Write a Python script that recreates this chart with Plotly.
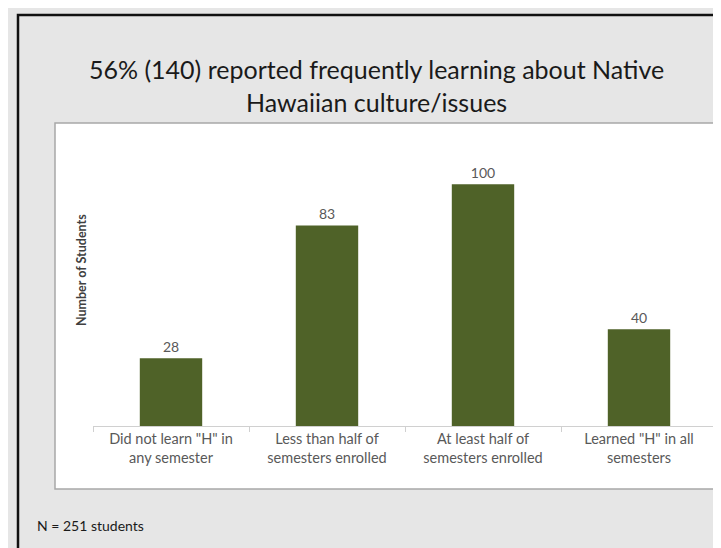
import plotly.graph_objects as go

categories = ['Did not learn "H" in<br>any semester',
              'Less than half of<br>semesters enrolled',
              'At least half of<br>semesters enrolled',
              'Learned "H" in all<br>semesters']
students = [28, 83, 100, 40]

W, H = 721, 548
L, R, T, B = 85, 12, 128, 130
pw = W - L - R
ph = H - T - B

def px(x):
    return (x - L) / pw

def py(y):
    return (H - B - y) / ph

FONT = "Lato, Liberation Sans, sans-serif"

fig = go.Figure()
fig.add_trace(go.Bar(
    x=categories, y=students,
    marker=dict(color="#4f6228", line=dict(width=0)),
    text=[str(v) for v in students], textposition="outside",
    textfont=dict(family=FONT, size=14, color="#595959"),
    cliponaxis=False,
))

fig.update_layout(
    width=W, height=H,
    margin=dict(l=L, r=R, t=T, b=B),
    paper_bgcolor="#e6e6e6",
    plot_bgcolor="white",
    showlegend=False,
    bargap=0.6,
    font=dict(family=FONT),
    xaxis=dict(showline=True, linecolor="#d0d0d0", linewidth=1,
               ticks="outside", tickson="boundaries", ticklen=5, tickcolor="#d0d0d0",
               tickfont=dict(size=14.5, color="#595959"), showgrid=False),
    yaxis=dict(range=[0, 120], showticklabels=False, showgrid=False,
               zeroline=False, showline=False),
    shapes=[
        dict(type="rect", xref="paper", yref="paper", layer="below",
             x0=px(47), x1=px(730), y0=py(481), y1=py(115),
             fillcolor="white", line=dict(color="#a8a8a8", width=1.5)),
        dict(type="rect", xref="paper", yref="paper",
             x0=px(10), x1=px(W + 10), y0=py(H + 10), y1=py(7),
             line=dict(color="#111111", width=2.5)),
    ],
    annotations=[
        dict(text="56% (140) reported frequently learning about Native<br>Hawaiian culture/issues",
             xref="paper", yref="paper", x=px(368), y=py(77),
             xanchor="center", yanchor="middle", showarrow=False,
             font=dict(size=25, color="#1a1a1a", family=FONT)),
        dict(text="<b>Number of Students</b>", textangle=-90,
             xref="paper", yref="paper", x=px(73), y=py(262),
             xanchor="center", yanchor="middle", showarrow=False,
             font=dict(size=12.5, color="#404040")),
        dict(text="N = 251 students",
             xref="paper", yref="paper", x=px(27), y=py(517),
             xanchor="left", yanchor="middle", showarrow=False,
             font=dict(size=14, color="#1a1a1a")),
    ],
)

fig.write_html("out.html")
